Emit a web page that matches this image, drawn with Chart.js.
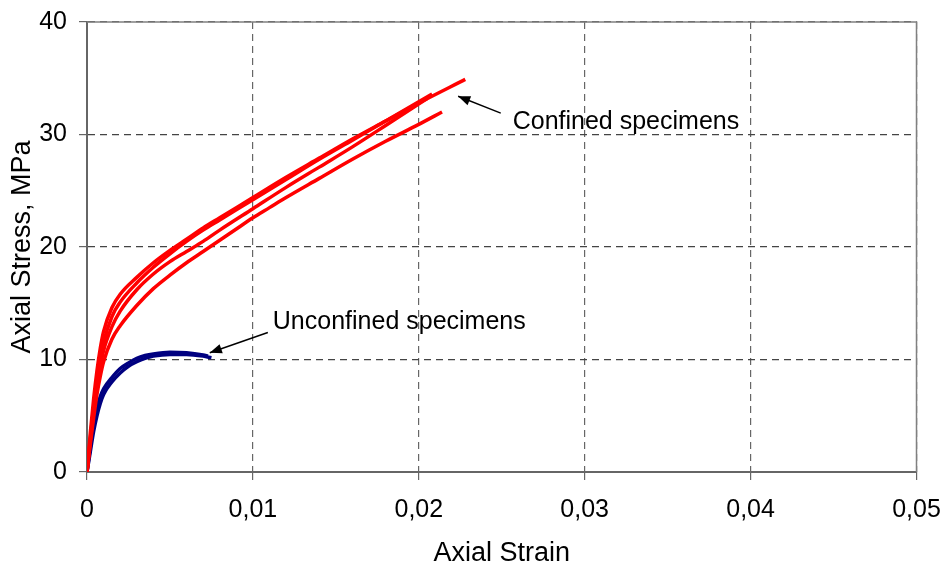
<!DOCTYPE html>
<html>
<head>
<meta charset="utf-8">
<script src="https://cdn.jsdelivr.net/npm/chart.js@4"></script>
<style>
  body { margin: 0; background: #fff; }
</style>
</head>
<body>
<canvas id="stressChart" width="946" height="568"></canvas>
<script>
// strain / stress (MPa)
const confinedA_x = [0, 0.0002, 0.0004, 0.0006, 0.0008, 0.001, 0.0015, 0.002, 0.003, 0.004, 0.005, 0.006, 0.007, 0.008, 0.009, 0.010, 0.012, 0.014, 0.016, 0.018, 0.020, 0.0228];
const confinedA_y = [0, 3.5, 6.5, 9.0, 11.0, 12.5, 14.6, 15.8, 17.3, 18.6, 19.7, 20.7, 21.7, 22.6, 23.5, 24.4, 26.2, 27.9, 29.6, 31.2, 32.8, 34.9];

const confinedB_x = [0, 0.0002, 0.0004, 0.0006, 0.0008, 0.001, 0.0015, 0.002, 0.003, 0.004, 0.005, 0.006, 0.007, 0.008, 0.009, 0.010, 0.012, 0.014, 0.016, 0.018, 0.0208];
const confinedB_y = [0, 3.0, 5.8, 8.2, 10.0, 11.5, 13.8, 15.1, 16.8, 18.2, 19.4, 20.5, 21.5, 22.4, 23.3, 24.2, 26.0, 27.8, 29.5, 31.2, 33.6];

const confinedC_x = [0, 0.0002, 0.0004, 0.0006, 0.0008, 0.001, 0.0015, 0.002, 0.003, 0.004, 0.005, 0.006, 0.007, 0.008, 0.010, 0.012, 0.014, 0.016, 0.018, 0.0205];
const confinedC_y = [0, 2.8, 5.3, 7.6, 9.4, 10.8, 12.9, 14.3, 16.2, 17.6, 18.7, 19.6, 20.5, 21.5, 23.4, 25.3, 27.1, 28.9, 30.8, 33.2];

const confinedD_x = [0, 0.0002, 0.0004, 0.0006, 0.0008, 0.001, 0.0015, 0.002, 0.003, 0.004, 0.005, 0.006, 0.007, 0.008, 0.009, 0.010, 0.011, 0.012, 0.014, 0.016, 0.018, 0.020, 0.0214];
const confinedD_y = [0, 2.5, 4.8, 6.9, 8.5, 9.8, 11.8, 13.0, 14.8, 16.3, 17.5, 18.6, 19.6, 20.6, 21.6, 22.6, 23.5, 24.4, 26.1, 27.8, 29.4, 30.9, 32.0];

const unconfinedA_x = [0, 0.0002, 0.0004, 0.0006, 0.0008, 0.001, 0.0015, 0.002, 0.0025, 0.003, 0.0035, 0.004, 0.005, 0.006, 0.007, 0.0073];
const unconfinedA_y = [0, 2.2, 4.2, 5.7, 6.7, 7.4, 8.4, 9.2, 9.7, 10.1, 10.35, 10.5, 10.65, 10.6, 10.4, 10.3];

const unconfinedB_x = [0, 0.0002, 0.0004, 0.0006, 0.0008, 0.001, 0.0015, 0.002, 0.0025, 0.003, 0.0035, 0.004, 0.005, 0.006, 0.007, 0.0075];
const unconfinedB_y = [0, 1.8, 3.6, 5.0, 6.1, 6.9, 8.0, 8.8, 9.4, 9.8, 10.1, 10.3, 10.45, 10.45, 10.3, 10.15];

const xTicks = [0, 0.01, 0.02, 0.03, 0.04, 0.05];
const yTicks = [0, 10, 20, 30, 40];

// annotation anchors (data units)
const notes = [
  { text: 'Confined specimens', tx: 0.02566, ty: 31.1, from: [0.02494, 31.9], to: [0.02237, 33.4] },
  { text: 'Unconfined specimens', tx: 0.0112, ty: 13.35, from: [0.0109, 12.4], to: [0.0074, 10.6] }
];

const FONT = 'Liberation Sans, Arial, sans-serif';
const FONT_SIZE = 25;
const TITLE_SIZE = 27;

function toPoints(xs, ys) {
  return xs.map((x, i) => ({ x: x, y: ys[i] }));
}

function curve(xs, ys, color) {
  return {
    data: toPoints(xs, ys),
    borderColor: color,
    borderWidth: 3.5,
    showLine: true,
    pointRadius: 0,
    fill: false,
    cubicInterpolationMode: 'monotone'
  };
}

const frameAndNotes = {
  id: 'frameAndNotes',
  afterDatasetsDraw(chart) {
    const ctx = chart.ctx;
    const a = chart.chartArea;
    const sx = chart.scales.x, sy = chart.scales.y;
    ctx.save();
    ctx.strokeStyle = '#808080';
    ctx.lineWidth = 1.5;
    ctx.beginPath();
    ctx.moveTo(a.left, a.top);
    ctx.lineTo(a.right, a.top);
    ctx.lineTo(a.right, a.bottom);
    ctx.stroke();

    ctx.fillStyle = '#000';
    ctx.strokeStyle = '#000';
    ctx.lineWidth = 1.4;
    ctx.font = FONT_SIZE + 'px ' + FONT;
    ctx.textBaseline = 'middle';
    ctx.textAlign = 'left';
    notes.forEach(n => {
      ctx.fillText(n.text, sx.getPixelForValue(n.tx), sy.getPixelForValue(n.ty));
      const x1 = sx.getPixelForValue(n.from[0]), y1 = sy.getPixelForValue(n.from[1]);
      const x2 = sx.getPixelForValue(n.to[0]), y2 = sy.getPixelForValue(n.to[1]);
      ctx.beginPath();
      ctx.moveTo(x1, y1);
      ctx.lineTo(x2, y2);
      ctx.stroke();
      const ang = Math.atan2(y2 - y1, x2 - x1);
      const len = 13, w = 0.38;
      ctx.beginPath();
      ctx.moveTo(x2, y2);
      ctx.lineTo(x2 - len * Math.cos(ang - w), y2 - len * Math.sin(ang - w));
      ctx.lineTo(x2 - len * Math.cos(ang + w), y2 - len * Math.sin(ang + w));
      ctx.closePath();
      ctx.fill();
    });
    ctx.restore();
  }
};

const ctx = document.getElementById('stressChart').getContext('2d');
new Chart(ctx, {
  type: 'scatter',
  data: {
    datasets: [
      curve(confinedA_x, confinedA_y, '#ff0000'),
      curve(confinedB_x, confinedB_y, '#ff0000'),
      curve(confinedC_x, confinedC_y, '#ff0000'),
      curve(confinedD_x, confinedD_y, '#ff0000'),
      curve(unconfinedA_x, unconfinedA_y, '#000080'),
      curve(unconfinedB_x, unconfinedB_y, '#000080')
    ]
  },
  options: {
    responsive: false,
    animation: false,
    layout: { padding: { top: 22, right: 29.5, left: 0, bottom: 0 } },
    plugins: {
      legend: { display: false },
      tooltip: { enabled: false }
    },
    scales: {
      x: {
        type: 'linear',
        min: 0,
        max: 0.05,
        afterBuildTicks: s => { s.ticks = xTicks.map(v => ({ value: v })); },
        afterFit: s => { s.height = 96; s.paddingLeft = 0; s.paddingRight = 0; },
        ticks: {
          color: '#000',
          font: { family: FONT, size: FONT_SIZE },
          padding: 15,
          maxRotation: 0,
          callback: v => v === 0 ? '0' : v.toFixed(2).replace('.', ',')
        },
        grid: {
          color: '#666',
          lineWidth: 1.2,
          tickLength: 8,
          tickColor: '#666',
          tickBorderDash: []
        },
        border: { color: '#666', width: 2, dash: [7, 5] },
        title: {
          display: true,
          text: 'Axial Strain',
          color: '#000',
          font: { family: FONT, size: TITLE_SIZE },
          padding: { top: 0, bottom: -2 }
        }
      },
      y: {
        type: 'linear',
        min: 0,
        max: 40,
        afterBuildTicks: s => { s.ticks = yTicks.map(v => ({ value: v })); },
        afterFit: s => { s.width = 87; s.paddingTop = 0; s.paddingBottom = 0; },
        ticks: {
          color: '#000',
          font: { family: FONT, size: FONT_SIZE },
          padding: 12
        },
        grid: {
          color: '#444',
          lineWidth: 1.2,
          tickLength: 8,
          tickColor: '#666',
          tickBorderDash: []
        },
        border: { color: '#666', width: 2, dash: [7, 5] },
        title: {
          display: true,
          text: 'Axial Stress, MPa',
          color: '#000',
          font: { family: FONT, size: TITLE_SIZE },
          padding: { top: 6, bottom: 4 }
        }
      }
    }
  },
  plugins: [frameAndNotes]
});
</script>
</body>
</html>
